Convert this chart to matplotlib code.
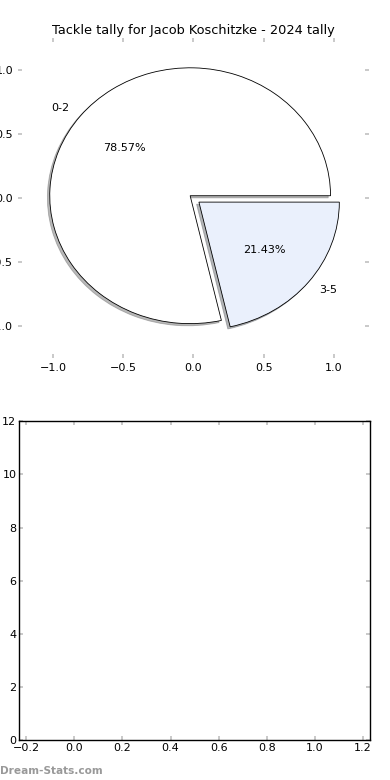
import matplotlib
matplotlib.use('Agg')
import matplotlib.pyplot as plt

# tackle tally data
labels = ['0-2', '3-5']
counts = [11, 3]
explode = [0.03, 0.05]
colors = ['#ffffff', '#eaf0fc']
title = 'Tackle tally for Jacob Koschitzke - 2024 tally'

pie_ticks = [-1.0, -0.5, 0.0, 0.5, 1.0]
bottom_xticks = [-0.2, 0.0, 0.2, 0.4, 0.6, 0.8, 1.0, 1.2]
bottom_yticks = [0, 2, 4, 6, 8, 10, 12]

plt.rcParams['font.size'] = 8

fig = plt.figure(figsize=(3.9, 7.8), dpi=100)
ax1 = fig.add_axes([0.046, 0.541, 0.9, 0.41])
ax2 = fig.add_axes([0.049, 0.051, 0.9, 0.409])

wedges, texts, autotexts = ax1.pie(
    counts,
    labels=labels,
    explode=explode,
    colors=colors,
    autopct='%1.2f%%',
    shadow={'ox': -0.012, 'oy': -0.012, 'shade': 0.55},
    startangle=0,
    frame=True,
    wedgeprops={'edgecolor': 'black', 'linewidth': 0.6},
    textprops={'fontsize': 8},
)
ax1.set_aspect('auto')
ax1.set_xlim(-1.25, 1.25)
ax1.set_ylim(-1.25, 1.25)
ax1.set_xticks(pie_ticks)
ax1.set_yticks(pie_ticks)
for s in ax1.spines.values():
    s.set_visible(False)
ax1.tick_params(direction='in', length=3, width=1.2, color='#c0c0c0',
                top=True, right=True, labelsize=8)
ax1.set_title(title, fontsize=9.3, pad=3)

ax2.set_xlim(-0.23, 1.23)
ax2.set_ylim(0, 12)
ax2.set_xticks(bottom_xticks)
ax2.set_yticks(bottom_yticks)
ax2.tick_params(direction='in', length=3, width=1.2, color='#c0c0c0',
                top=True, right=True, labelsize=8, pad=2)
for s in ax2.spines.values():
    s.set_linewidth(1.0)

fig.text(0.0, 0.0075, 'Dream-Stats.com', fontsize=7.6, fontweight='bold',
         color='#999999', ha='left', va='baseline')

fig.savefig('out.png', dpi=100)
